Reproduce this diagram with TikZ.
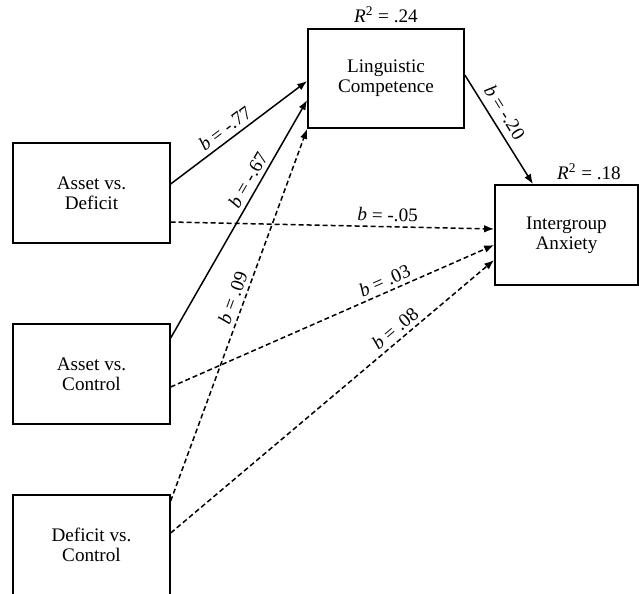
\documentclass[tikz,border=0pt]{standalone}
\usepackage{fontspec}
\setmainfont{Liberation Serif}
\usetikzlibrary{arrows.meta}

\begin{document}
\begin{tikzpicture}[x=0.6pt,y=-0.6pt,
   every node/.style={font=\fontsize{11.5}{12}\selectfont},
   var/.style={draw,line width=1pt,align=center,inner sep=0pt,
      minimum width=94pt,minimum height=60pt},
   effect/.style={line width=0.9pt,-{Latex[length=6pt,width=4.5pt]}},
   ns/.style={effect,dash pattern=on 3pt off 1.8pt},
   coef/.style={sloped,above,inner sep=2.5pt}]
\useasboundingbox (0,0) rectangle (639,594);
\node[var] (ad) at (91.5,193) {Asset vs.\\Deficit};
\node[var] (ac) at (91.5,374) {Asset vs.\\Control};
\node[var] (dc) at (91.5,545) {Deficit vs.\\Control};
\node[var,minimum width=93.6pt,minimum height=59.4pt] (lc) at (386,78.5) {Linguistic\\Competence};
\node[var,minimum width=85.8pt] (ia) at (566.5,235) {Intergroup\\Anxiety};
\node (r2lc) at (386,15) {\textit{R}\textsuperscript{2} = .24};
\node (r2ia) at (589,172) {\textit{R}\textsuperscript{2} = .18};
\draw[effect] ([yshift=5.4pt]ad.east) -- node[coef,pos=0.45] {\textit{b} = -.77} ([yshift=-1.5pt]lc.west);
\draw[effect] ([yshift=21.6pt]ac.east) -- node[coef,pos=0.64] {\textit{b} = -.67} ([yshift=-12.9pt]lc.west);
\draw[ns] ([yshift=26.4pt]dc.east) -- node[coef,pos=0.535] {\textit{b} = .09} (lc.south west);
\draw[ns] ([yshift=-17.4pt]ad.east) -- node[coef,pos=0.67] {\textit{b} = -.05} ([yshift=3.6pt]ia.west);
\draw[ns] ([yshift=-7.8pt]ac.east) -- node[coef,pos=0.676] {\textit{b} = .03} ([yshift=-6pt]ia.west);
\draw[ns] ([yshift=7.2pt]dc.east) -- node[coef,pos=0.717] {\textit{b} = .08} ([yshift=-15pt]ia.west);
\draw[effect] ([yshift=2.1pt]lc.east) -- node[coef,pos=0.41,inner sep=4pt] {\textit{b} = -.20} ([xshift=-20.1pt]ia.north);
\end{tikzpicture}
\end{document}
